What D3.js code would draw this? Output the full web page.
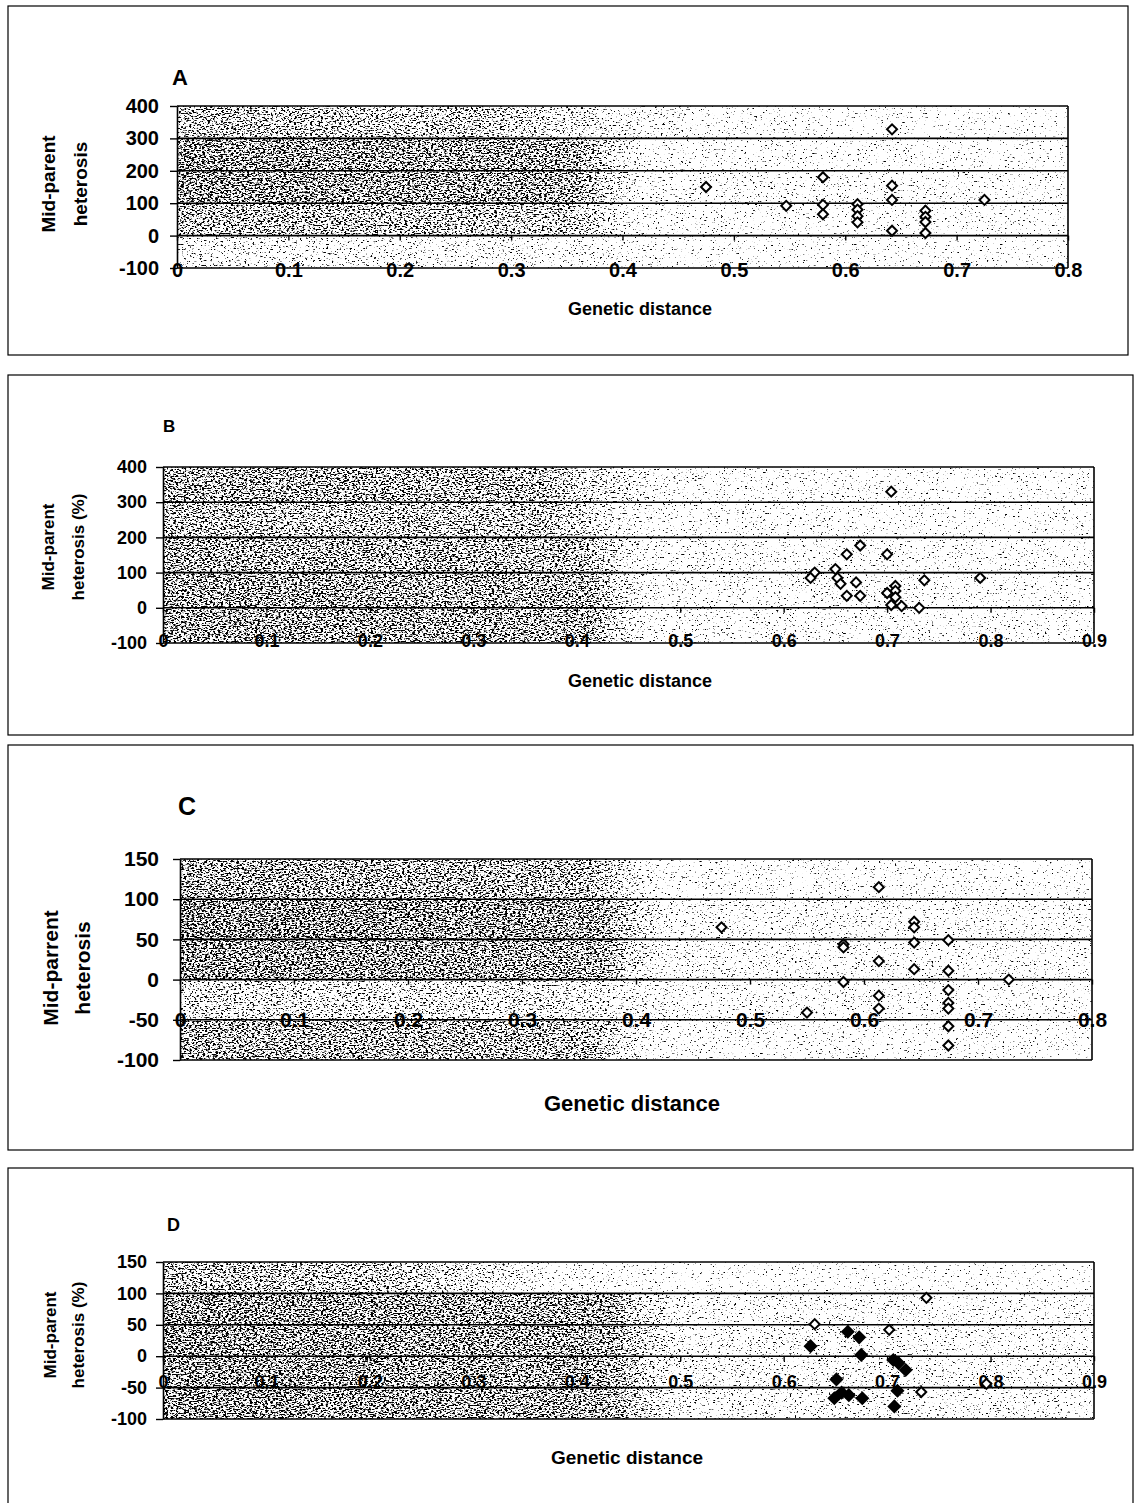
<!DOCTYPE html>
<html><head><meta charset="utf-8">
<script src="https://cdn.jsdelivr.net/npm/d3@7"></script>
<style>
html,body{margin:0;padding:0;background:#fff;}
svg{display:block;}
text{font-family:"Liberation Sans",Arial,sans-serif;font-weight:bold;fill:#000;}
</style></head><body>
<svg id="chart" width="1136" height="1503"></svg>
<script>
// ---------------- data ----------------
const panelLetters = ["A", "B", "C", "D"];
const xTitle = "Genetic distance";
const yTitleA = ["Mid-parent", "heterosis"];
const yTitleB = ["Mid-parent", "heterosis (%)"];
const yTitleC = ["Mid-parrent", "heterosis"];
const yTitleD = ["Mid-parent", "heterosis (%)"];

const xTicks08 = [0, 0.1, 0.2, 0.3, 0.4, 0.5, 0.6, 0.7, 0.8];
const xTicks09 = [0, 0.1, 0.2, 0.3, 0.4, 0.5, 0.6, 0.7, 0.8, 0.9];
const yTicks400 = [-100, 0, 100, 200, 300, 400];
const yTicks150 = [-100, -50, 0, 50, 100, 150];

const aDistance  = [0.475, 0.547, 0.580, 0.580, 0.580, 0.611, 0.611, 0.611, 0.611, 0.642, 0.642, 0.642, 0.642, 0.672, 0.672, 0.672, 0.672, 0.725];
const aHeterosis = [150,   92,    180,   95,    66,    97,    80,    60,    41,    328,   154,   110,   15,    77,    58,    42,    8,     110];

const bDistance  = [0.630, 0.626, 0.650, 0.652, 0.655, 0.661, 0.674, 0.670, 0.661, 0.674, 0.700, 0.704, 0.700, 0.708, 0.708, 0.708, 0.704, 0.714, 0.731, 0.736, 0.790];
const bHeterosis = [100,   85,    110,   85,    68,    152,   177,   72,    34,    34,    152,   330,   42,    62,    48,    30,    8,     5,     0,     78,    85];

const cDistance  = [0.475, 0.550, 0.582, 0.582, 0.582, 0.613, 0.613, 0.613, 0.613, 0.644, 0.644, 0.644, 0.644, 0.674, 0.674, 0.674, 0.674, 0.674, 0.674, 0.674, 0.727];
const cHeterosis = [65,    -41,   44,    40,    -3,    115,   23,    -20,   -36,   72,    65,    46,    13,    49,    11,    -13,   -29,   -36,   -58,   -82,   0];

const dOpenDistance  = [0.630, 0.702, 0.738, 0.733, 0.796];
const dOpenHeterosis = [51,    42,    93,    -57,   -44];
const dFilledDistance  = [0.626, 0.662, 0.673, 0.675, 0.706, 0.711, 0.718, 0.651, 0.649, 0.656, 0.663, 0.676, 0.707, 0.710];
const dFilledHeterosis = [16,    39,    30,    2,     -6,    -11,   -22,   -37,   -67,   -58,   -62,   -67,   -80,   -55];

// ---------------- layout / style ----------------
const svg = d3.select("#chart");
const defs = svg.append("defs");
// stipple: a dot appears where noise + density > 1
const filt = defs.append("filter").attr("id", "grain")
  .attr("filterUnits", "userSpaceOnUse").attr("x", 0).attr("y", 0).attr("width", 1136).attr("height", 1503)
  .attr("color-interpolation-filters", "sRGB");
filt.append("feTurbulence").attr("type", "fractalNoise").attr("baseFrequency", "0.38 0.75")
  .attr("numOctaves", 3).attr("seed", 11).attr("result", "n");
filt.append("feComposite").attr("in", "n").attr("in2", "SourceGraphic").attr("operator", "arithmetic")
  .attr("k1", 0).attr("k2", 9).attr("k3", 9).attr("k4", -9);

const fmt = d => d === 0 ? "0" : d3.format(".1f")(d);
const yfmt = d => String(d);

// shade rows: [leftDensity, darkUntil, fadeEnd, rightDensity] (fractions of plot width)
const panels = [
  { letter: panelLetters[0], yTitle: yTitleA, xTicks: xTicks08, yTicks: yTicks400,
    series: [{ xs: aDistance, ys: aHeterosis, filled: false }],
    box: [8, 6, 1128, 355], plot: [177, 106, 1068, 268],
    letterPos: [172, 85, 22], yTitlePos: [48, 80, 184, 19], xTitlePos: [640, 315, 18],
    tickFont: 20, yPad: 11, xLabelOffset: 34,
    shades: [[0.48, 0.35, 0.6, 0.31], [0.53, 0.45, 0.52, 0.32], [0.53, 0.45, 0.52, 0.33], [0.49, 0.44, 0.52, 0.32], [0.38, 0.4, 0.55, 0.31]] },
  { letter: panelLetters[1], yTitle: yTitleB, xTicks: xTicks09, yTicks: yTicks400,
    series: [{ xs: bDistance, ys: bHeterosis, filled: false }],
    box: [8, 375, 1133, 735], plot: [163, 467, 1094, 643],
    letterPos: [163, 432, 17], yTitlePos: [48, 78, 547, 17], xTitlePos: [640, 687, 18],
    tickFont: 18, yPad: 9, xLabelOffset: 33,
    shades: [[0.51, 0.4, 0.55, 0.32], [0.49, 0.42, 0.52, 0.32], [0.51, 0.45, 0.52, 0.33], [0.52, 0.46, 0.52, 0.33], [0.52, 0.46, 0.52, 0.33]] },
  { letter: panelLetters[2], yTitle: yTitleC, xTicks: xTicks08, yTicks: yTicks150,
    series: [{ xs: cDistance, ys: cHeterosis, filled: false }],
    box: [8, 745, 1133, 1150], plot: [180, 859, 1092, 1060],
    letterPos: [178, 815, 25], yTitlePos: [50, 82, 968, 21], xTitlePos: [632, 1111, 22],
    tickFont: 21, yPad: 14, xLabelOffset: 40,
    shades: [[0.51, 0.45, 0.52, 0.32], [0.54, 0.46, 0.53, 0.34], [0.53, 0.46, 0.53, 0.34], [0.44, 0.4, 0.55, 0.33], [0.51, 0.45, 0.52, 0.32]] },
  { letter: panelLetters[3], yTitle: yTitleD, xTicks: xTicks09, yTicks: yTicks150,
    series: [{ xs: dOpenDistance, ys: dOpenHeterosis, filled: false },
             { xs: dFilledDistance, ys: dFilledHeterosis, filled: true }],
    box: [8, 1168, 1133, 1515], plot: [163, 1262, 1094, 1419],
    letterPos: [167, 1231, 18], yTitlePos: [50, 78, 1335, 17], xTitlePos: [627, 1464, 19],
    tickFont: 18, yPad: 9, xLabelOffset: 26,
    shades: [[0.49, 0.25, 0.45, 0.31], [0.53, 0.48, 0.55, 0.34], [0.53, 0.48, 0.55, 0.35], [0.53, 0.48, 0.55, 0.35], [0.53, 0.48, 0.55, 0.35]] }
];

panels.forEach((p, pi) => {
  const g = svg.append("g");
  const [bx0, by0, bx1, by1] = p.box;
  g.append("rect").attr("x", bx0).attr("y", by0).attr("width", bx1 - bx0).attr("height", by1 - by0)
    .attr("fill", "none").attr("stroke", "#000").attr("stroke-width", 1.2);

  const [px0, py0, px1, py1] = p.plot;
  const x = d3.scaleLinear().domain([0, p.xTicks[p.xTicks.length - 1]]).range([px0, px1]);
  const y = d3.scaleLinear().domain([p.yTicks[0], p.yTicks[p.yTicks.length - 1]]).range([py1, py0]);

  // textured bands (top to bottom)
  const bands = d3.range(p.yTicks.length - 1).map(i => [p.yTicks[p.yTicks.length - 1 - i], p.yTicks[p.yTicks.length - 2 - i]]);
  bands.forEach((b, bi) => {
    const s = p.shades[bi];
    const gid = `grad${pi}_${bi}`;
    const lg = defs.append("linearGradient").attr("id", gid).attr("x1", 0).attr("x2", 1).attr("y1", 0).attr("y2", 0);
    lg.append("stop").attr("offset", 0).attr("stop-color", "#000").attr("stop-opacity", s[0]);
    lg.append("stop").attr("offset", s[1]).attr("stop-color", "#000").attr("stop-opacity", s[0] - 0.02);
    lg.append("stop").attr("offset", s[2]).attr("stop-color", "#000").attr("stop-opacity", s[3] + 0.02);
    lg.append("stop").attr("offset", 1).attr("stop-color", "#000").attr("stop-opacity", s[3]);
    g.append("rect").attr("x", px0).attr("y", y(b[0])).attr("width", px1 - px0).attr("height", y(b[1]) - y(b[0]))
      .attr("fill", `url(#${gid})`).attr("filter", "url(#grain)");
  });

  // gridlines
  g.append("g").selectAll("line").data(p.yTicks).join("line")
    .attr("x1", px0).attr("x2", px1).attr("y1", d => y(d)).attr("y2", d => y(d))
    .attr("stroke", "#000").attr("stroke-width", 1.6);
  g.append("line").attr("x1", px1).attr("x2", px1).attr("y1", py0).attr("y2", py1)
    .attr("stroke", "#000").attr("stroke-width", 1.6);

  // y axis
  const ya = g.append("g").attr("transform", `translate(${px0},0)`)
    .call(d3.axisLeft(y).tickValues(p.yTicks).tickFormat(yfmt).tickSize(7).tickPadding(p.yPad).tickSizeOuter(0));
  ya.select(".domain").attr("stroke", "#000").attr("stroke-width", 1.6);
  ya.selectAll(".tick line").attr("stroke", "#000").attr("stroke-width", 1.4);
  ya.selectAll("text").attr("font-size", p.tickFont).attr("font-family", null).attr("fill", "#000");

  // x axis at y = 0
  const xa = g.append("g").attr("transform", `translate(0,${y(0)})`)
    .call(d3.axisBottom(x).tickValues(p.xTicks).tickFormat(fmt).tickSize(5)
      .tickPadding(p.xLabelOffset - 5 - 0.36 * p.tickFont).tickSizeOuter(0));
  xa.select(".domain").remove();
  xa.selectAll(".tick line").attr("stroke", "#000").attr("stroke-width", 1.4);
  xa.selectAll("text").attr("font-size", p.tickFont).attr("font-family", null).attr("fill", "#000");

  // markers
  p.series.forEach(s => {
    const pts = s.xs.map((d, i) => [d, s.ys[i]]);
    const size = s.filled ? 64 : 50;
    g.append("g").selectAll("path").data(pts).join("path")
      .attr("d", d3.symbol(d3.symbolSquare, size))
      .attr("transform", d => `translate(${x(d[0])},${y(d[1])}) rotate(45)`)
      .attr("fill", s.filled ? "#000" : "#fff")
      .attr("stroke", "#000").attr("stroke-width", 2);
  });

  // panel letter
  g.append("text").attr("x", p.letterPos[0]).attr("y", p.letterPos[1]).attr("font-size", p.letterPos[2]).text(p.letter);

  // y title (two lines, rotated)
  [p.yTitlePos[0], p.yTitlePos[1]].forEach((lx, li) => {
    g.append("text").attr("transform", `translate(${lx},${p.yTitlePos[2]}) rotate(-90)`)
      .attr("text-anchor", "middle").attr("dominant-baseline", "central")
      .attr("font-size", p.yTitlePos[3]).text(p.yTitle[li]);
  });

  // x title
  g.append("text").attr("x", p.xTitlePos[0]).attr("y", p.xTitlePos[1]).attr("text-anchor", "middle")
    .attr("font-size", p.xTitlePos[2]).text(xTitle);
});
</script>
</body></html>
